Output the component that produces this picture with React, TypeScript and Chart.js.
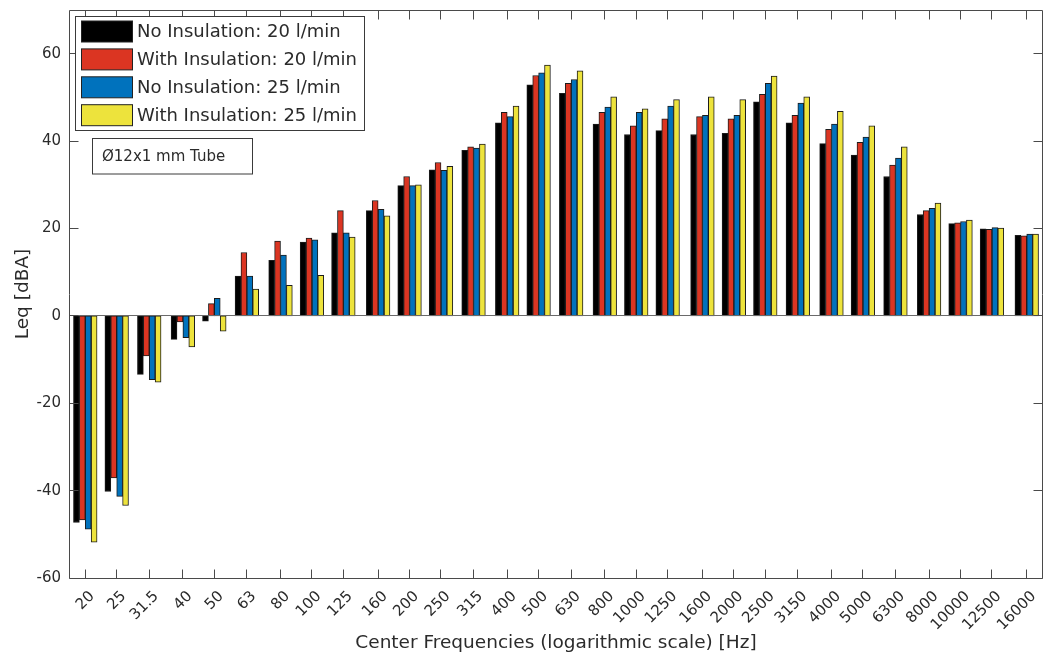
import React, { useEffect, useRef } from 'react';
import { Chart, registerables } from 'chart.js';

Chart.register(...registerables);

const frequencies = [20, 25, 31.5, 40, 50, 63, 80, 100, 125, 160, 200, 250, 315, 400, 500, 630, 800, 1000, 1250, 1600, 2000, 2500, 3150, 4000, 5000, 6300, 8000, 10000, 12500, 16000];
const freqLabels = ['20', '25', '31.5', '40', '50', '63', '80', '100', '125', '160', '200', '250', '315', '400', '500', '630', '800', '1000', '1250', '1600', '2000', '2500', '3150', '4000', '5000', '6300', '8000', '10000', '12500', '16000'];

const noInsulation20 = [-47.3, -40.2, -13.4, -5.4, -1.2, 9.1, 12.7, 16.9, 19.0, 24.1, 29.8, 33.4, 37.9, 44.2, 52.9, 50.9, 43.9, 41.5, 42.4, 41.5, 41.8, 49.0, 44.2, 39.4, 36.8, 31.9, 23.2, 21.1, 19.9, 18.4];
const withInsulation20 = [-46.7, -37.1, -9.2, -1.4, 2.8, 14.5, 17.1, 17.8, 24.1, 26.4, 31.9, 35.1, 38.7, 46.6, 55.0, 53.2, 46.6, 43.5, 45.1, 45.6, 45.1, 50.7, 45.9, 42.7, 39.7, 34.5, 24.1, 21.3, 19.8, 18.3];
const noInsulation25 = [-48.8, -41.3, -14.6, -5.0, 4.0, 9.1, 13.9, 17.4, 19.0, 24.4, 29.8, 33.3, 38.4, 45.6, 55.6, 54.1, 47.8, 46.6, 48.0, 45.9, 45.9, 53.2, 48.7, 43.9, 40.9, 36.1, 24.6, 21.6, 20.2, 18.7];
const withInsulation25 = [-51.8, -43.4, -15.2, -7.1, -3.5, 6.1, 7.0, 9.3, 18.0, 22.9, 30.0, 34.2, 39.3, 48.0, 57.4, 56.1, 50.1, 47.4, 49.5, 50.1, 49.5, 54.9, 50.1, 46.8, 43.5, 38.7, 25.8, 21.9, 20.1, 18.7];

const seriesLabels = ['No Insulation: 20 l/min', 'With Insulation: 20 l/min', 'No Insulation: 25 l/min', 'With Insulation: 25 l/min'];
const seriesColors = ['#000000', '#DB3522', '#0072BD', '#EDE33C'];
const yTicks = [-60, -40, -20, 0, 20, 40, 60];
const annotationText = 'Ø12x1 mm Tube';

const FONT = "'DejaVu Sans', 'Liberation Sans', Arial, sans-serif";
const TEXT = '#2b2b2b';
const AXIS = '#4a4a4a';

const framePlugin = {
  id: 'framePlugin',
  afterDatasetsDraw(chart: any) {
    const { ctx, chartArea: a, scales } = chart;
    const x = scales.x;
    const y = scales.y;
    ctx.save();
    ctx.lineWidth = 1;
    const L = Math.floor(a.left) + 0.5;
    const R = Math.ceil(a.right) - 0.5;
    const T = Math.floor(a.top) + 0.5;
    const B = Math.floor(a.bottom) + 0.5;
    // baseline at 0
    const y0 = Math.floor(y.getPixelForValue(0)) + 0.5;
    ctx.strokeStyle = '#6a6a6a';
    ctx.beginPath();
    ctx.moveTo(L, y0);
    ctx.lineTo(R, y0);
    ctx.stroke();
    ctx.strokeStyle = AXIS;
    // box
    ctx.beginPath();
    ctx.moveTo(L, T); ctx.lineTo(R, T); ctx.lineTo(R, B); ctx.lineTo(L, B); ctx.closePath();
    ctx.stroke();
    // ticks inward
    const tl = 9;
    ctx.beginPath();
    frequencies.forEach((f) => {
      const px = Math.floor(x.getPixelForValue(Math.log10(f))) + 0.5;
      ctx.moveTo(px, B); ctx.lineTo(px, B - tl);
      ctx.moveTo(px, T); ctx.lineTo(px, T + tl);
    });
    yTicks.forEach((v) => {
      const py = Math.floor(y.getPixelForValue(v)) + 0.5;
      ctx.moveTo(L, py); ctx.lineTo(L + tl, py);
      ctx.moveTo(R, py); ctx.lineTo(R - tl, py);
    });
    ctx.stroke();

    // x tick labels (rotated 45 degrees)
    ctx.font = `15px ${FONT}`;
    ctx.fillStyle = TEXT;
    ctx.textAlign = 'right';
    ctx.textBaseline = 'middle';
    x.ticks.forEach((t: any, i: number) => {
      const px = x.getPixelForValue(t.value);
      ctx.save();
      ctx.translate(px + 7, a.bottom + 16);
      ctx.rotate(-Math.PI / 4);
      ctx.fillText(freqLabels[i], 0, 0);
      ctx.restore();
    });

    // legend
    const lx = 75.5, ly = 16.5, lw = 289, lh = 114;
    ctx.textAlign = 'left';
    ctx.fillStyle = '#ffffff';
    ctx.fillRect(lx, ly, lw, lh);
    ctx.strokeStyle = '#3a3a3a';
    ctx.strokeRect(lx, ly, lw, lh);
    ctx.font = `18px ${FONT}`;
    chart.data.datasets.forEach((ds: any, i: number) => {
      const cy = 31.5 + i * 27.9;
      ctx.fillStyle = ds.backgroundColor;
      ctx.fillRect(81, cy - 10.5, 52, 21);
      ctx.strokeStyle = '#222';
      ctx.strokeRect(81.5, cy - 10.5, 51, 21);
      ctx.fillStyle = TEXT;
      ctx.fillText(ds.label, 137, cy + 1);
    });

    // annotation box
    ctx.fillStyle = '#ffffff';
    ctx.fillRect(92, 138.5, 160, 35.5);
    ctx.strokeStyle = '#3a3a3a';
    ctx.strokeRect(92.5, 138.5, 160, 35.5);
    ctx.font = `15px ${FONT}`;
    ctx.fillStyle = TEXT;
    ctx.fillText(annotationText, 102, 157);
    ctx.restore();
  },
};

export default function App() {
  const canvasRef = useRef<HTMLCanvasElement | null>(null);

  useEffect(() => {
    const canvas = canvasRef.current;
    if (!canvas) return;
    const step = Math.pow(2, 1 / 6);
    const chart = new Chart(canvas, {
      type: 'bar',
      data: {
        datasets: [noInsulation20, withInsulation20, noInsulation25, withInsulation25].map((vals, i) => ({
          label: seriesLabels[i],
          data: vals.map((v, j) => ({ x: Math.log10(frequencies[j]), y: v })),
          backgroundColor: seriesColors[i],
          borderColor: '#1c1c1c',
          borderWidth: 1,
          borderSkipped: false,
          barThickness: 5.9,
        })),
      },
      options: {
        responsive: false,
        animation: false,
        events: [],
        layout: { padding: { left: 0, right: 0, top: 10, bottom: 0 } },
        plugins: {
          legend: { display: false },
          tooltip: { enabled: false },
          title: { display: false },
        },
        scales: {
          x: {
            type: 'linear',
            offset: false,
            min: Math.log10(20 / step),
            max: Math.log10(16000 * step),
            grid: { display: false, drawTicks: false },
            border: { display: false },
            afterBuildTicks: (axis: any) => {
              axis.ticks = frequencies.map((f) => ({ value: Math.log10(f) }));
            },
            afterFit: (axis: any) => {
              axis.height = 90;
              axis.paddingLeft = 0;
              axis.paddingRight = 0;
            },
            ticks: {
              display: false,
              autoSkip: false,
              callback: (_v: any, i: number) => freqLabels[i],
            },
            title: {
              display: true,
              text: 'Center Frequencies (logarithmic scale) [Hz]',
              color: TEXT,
              font: { family: FONT, size: 18.5 },
              padding: { top: 0, bottom: 14 },
            },
          },
          y: {
            type: 'linear',
            min: -60,
            max: 70,
            grid: { display: false, drawTicks: false },
            border: { display: false },
            afterBuildTicks: (axis: any) => {
              axis.ticks = yTicks.map((v) => ({ value: v }));
            },
            afterFit: (axis: any) => {
              axis.width = 69;
              axis.paddingTop = 0;
              axis.paddingBottom = 0;
            },
            ticks: {
              padding: 8,
              color: TEXT,
              font: { family: FONT, size: 15 },
              callback: (v: any) => String(v),
            },
            title: {
              display: true,
              text: 'Leq [dBA]',
              color: TEXT,
              font: { family: FONT, size: 18.5 },
              padding: { top: 12, bottom: 0 },
            },
          },
        },
      },
      plugins: [framePlugin],
    } as any);
    return () => chart.destroy();
  }, []);

  return (
    <div style={{ position: 'fixed', left: 0, top: 0, width: 1043, height: 668, background: '#ffffff' }}>
      <canvas ref={canvasRef} width={1043} height={668} style={{ display: 'block', width: 1043, height: 668 }} />
    </div>
  );
}
